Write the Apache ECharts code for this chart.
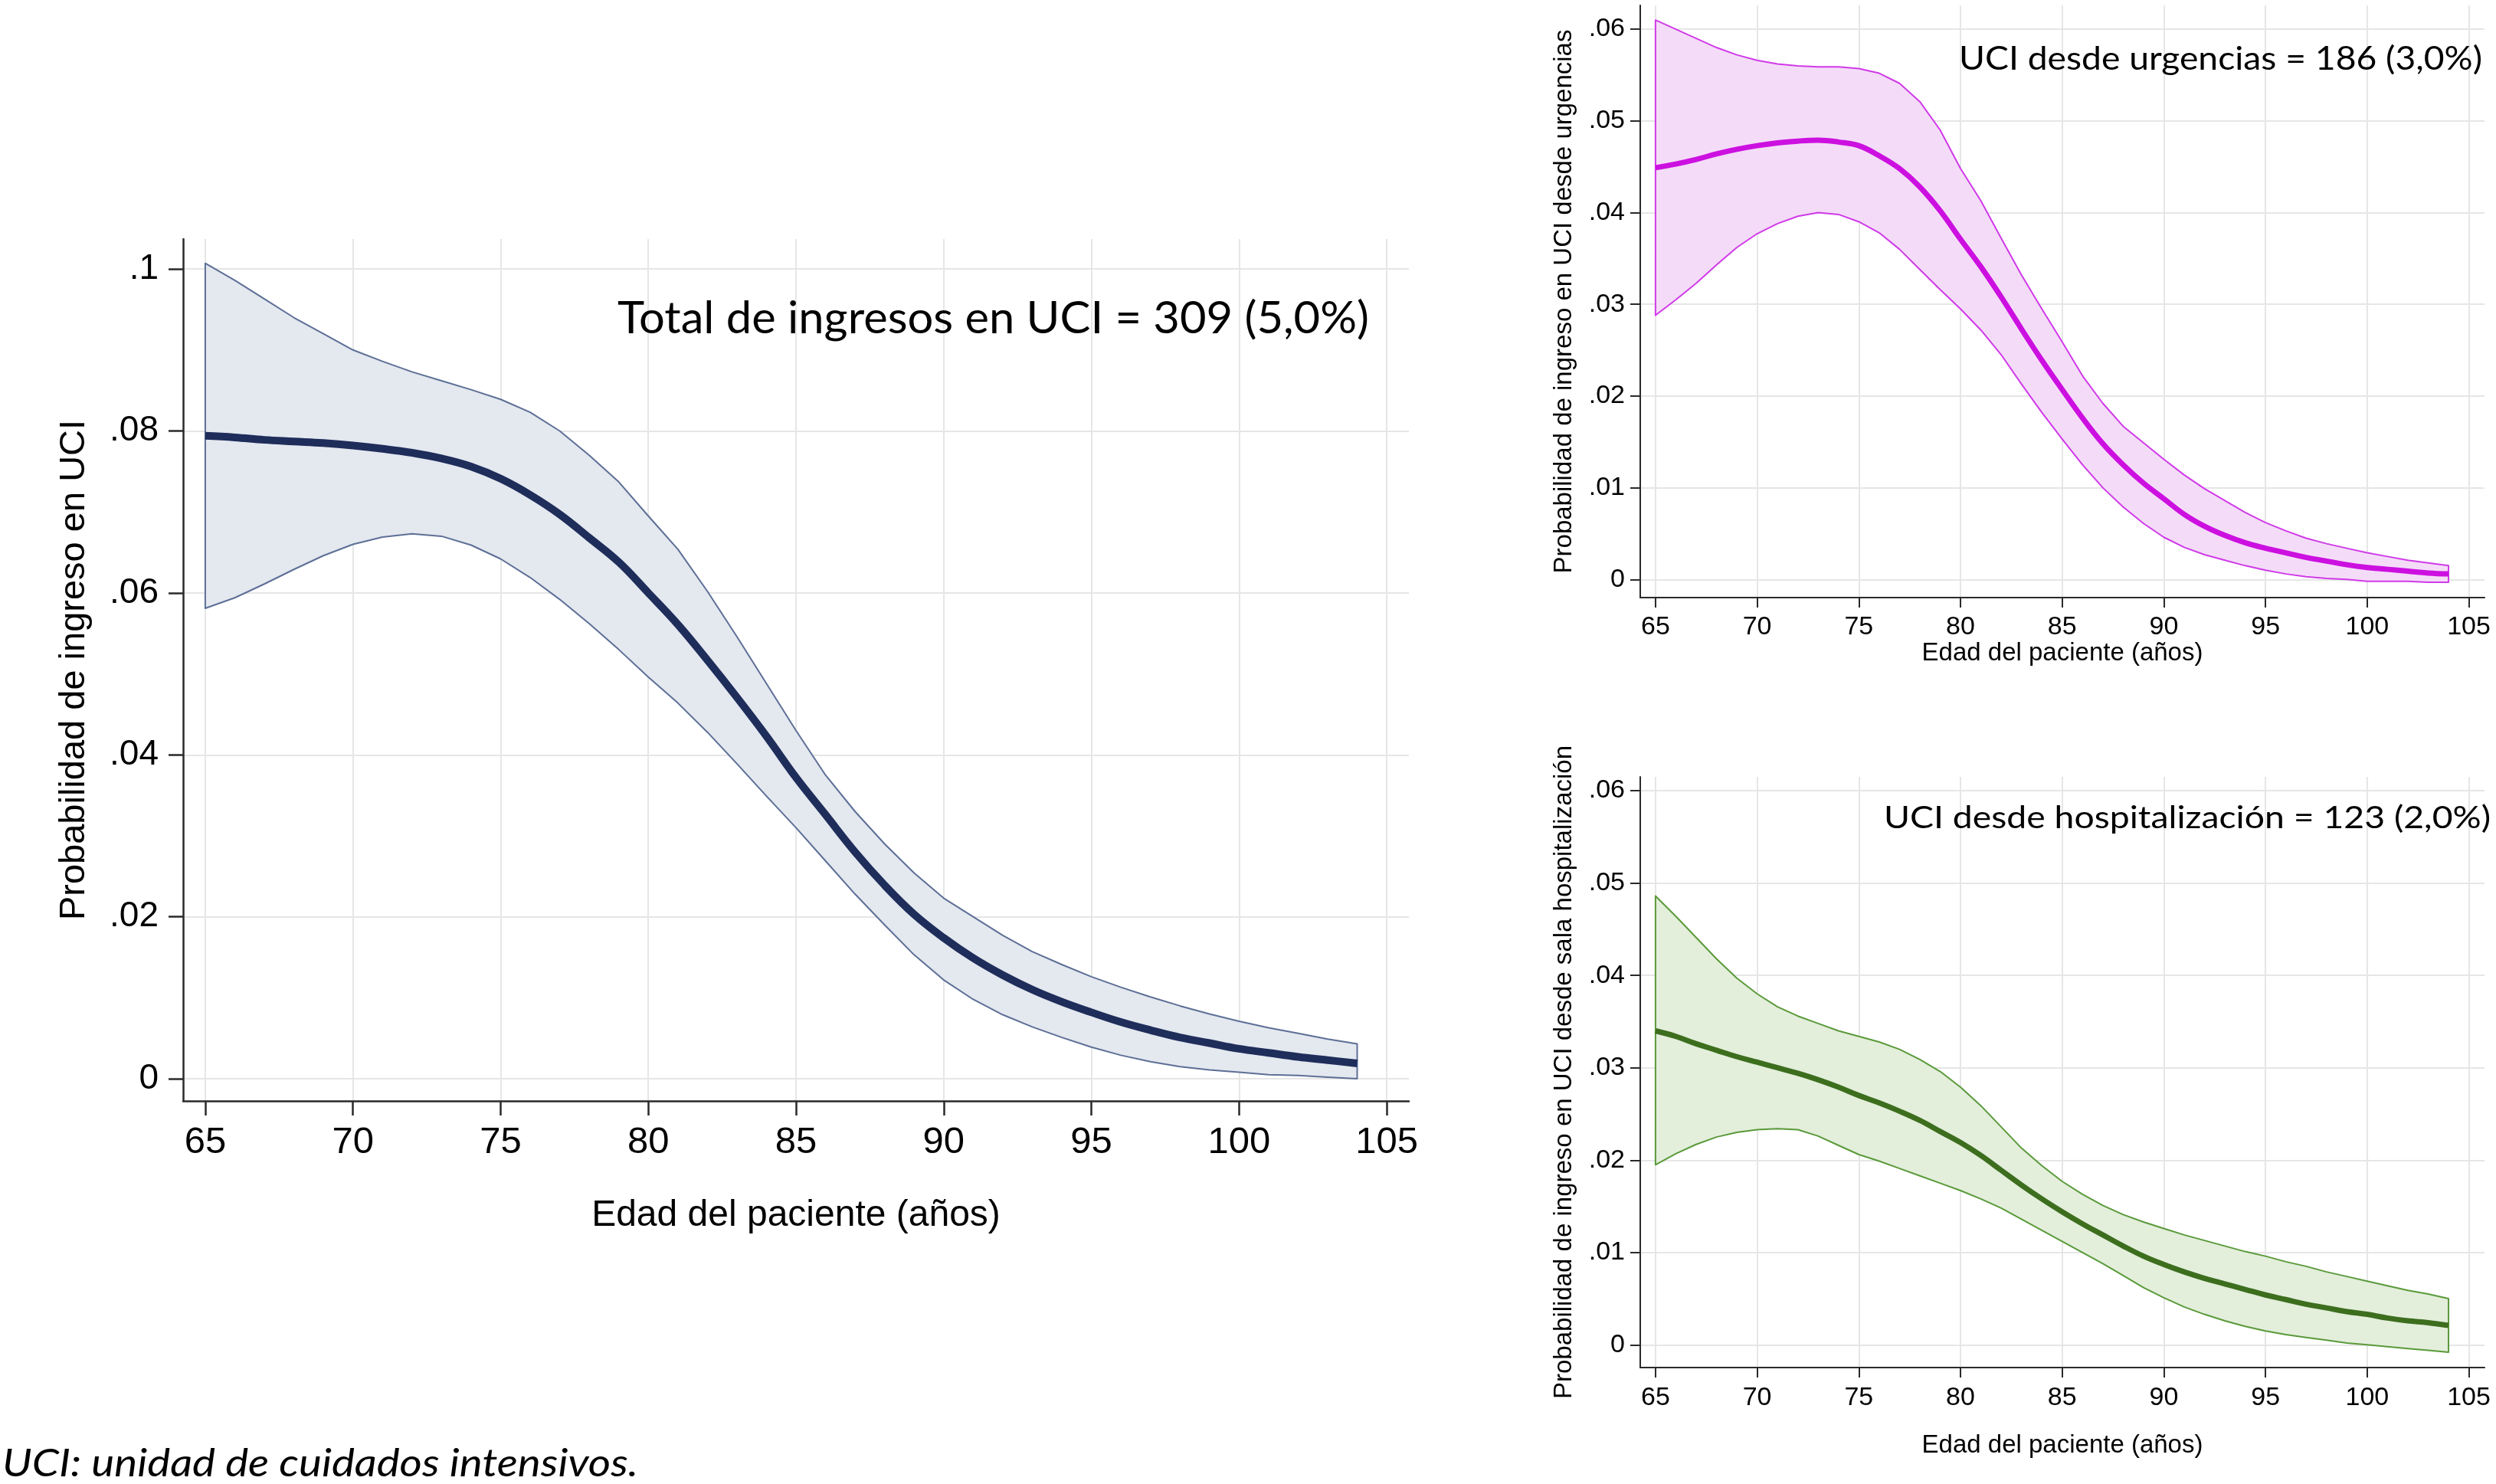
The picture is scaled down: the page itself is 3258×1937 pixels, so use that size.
<!DOCTYPE html>
<html>
<head>
<meta charset="utf-8">
<script src="https://cdn.jsdelivr.net/npm/echarts@6/dist/echarts.min.js"></script>
<style>
html,body{margin:0;padding:0;background:#ffffff;}
#c{width:3258px;height:1937px;}
</style>
</head>
<body>
<div id="c"></div>
<script>
// ---------------- DATA ----------------
const ages = [65,66,67,68,69,70,71,72,73,74,75,76,77,78,79,80,81,82,83,84,85,86,87,88,89,90,91,92,93,94,95,96,97,98,99,100,101,102,103,104];

// Total de ingresos en UCI
const totalMid = [.0794,.0792,.0789,.0787,.0785,.0782,.0778,.0773,.0766,.0756,.0741,.0721,.0697,.0668,.0638,.0600,.0561,.0517,.0471,.0423,.0372,.0326,.0280,.0239,.0203,.0174,.0149,.0128,.0110,.0095,.0082,.0070,.0060,.0051,.0044,.0037,.0032,.0027,.0023,.0019];
const totalUp  = [.1007,.0986,.0963,.0940,.0920,.0900,.0886,.0873,.0862,.0851,.0839,.0823,.0800,.0770,.0737,.0695,.0654,.0602,.0546,.0488,.0430,.0375,.0330,.0290,.0254,.0223,.0200,.0177,.0157,.0141,.0126,.0113,.0101,.0090,.0080,.0071,.0063,.0056,.0049,.0043];
const totalLow = [.0581,.0594,.0611,.0629,.0646,.0660,.0669,.0673,.0670,.0659,.0642,.0619,.0592,.0562,.0530,.0496,.0464,.0428,.0389,.0349,.0310,.0269,.0228,.0190,.0153,.0122,.0098,.0079,.0064,.0051,.0039,.0029,.0021,.0015,.0011,.0008,.0005,.0004,.0002,.0000];

// UCI desde urgencias
const urgMid = [.0449,.0453,.0458,.0464,.0469,.0473,.0476,.0478,.0479,.0477,.0473,.0462,.0448,.0428,.0402,.0371,.0341,.0308,.0273,.0239,.0207,.0176,.0148,.0125,.0105,.0088,.0071,.0058,.0048,.0040,.0034,.0029,.0024,.0020,.0016,.0013,.0011,.0009,.0007,.0006];
const urgUp  = [.0610,.0600,.0590,.0580,.0572,.0566,.0562,.0560,.0559,.0559,.0557,.0552,.0541,.0521,.0490,.0448,.0413,.0372,.0332,.0295,.0259,.0222,.0192,.0167,.0149,.0131,.0114,.0099,.0086,.0073,.0062,.0053,.0045,.0039,.0034,.0029,.0025,.0021,.0018,.0015];
const urgLow = [.0288,.0305,.0323,.0343,.0362,.0377,.0388,.0396,.0400,.0398,.0390,.0378,.0360,.0338,.0316,.0295,.0272,.0245,.0213,.0182,.0153,.0125,.0100,.0079,.0061,.0046,.0035,.0027,.0021,.0015,.0010,.0006,.0003,.0001,.0000,-.0002,-.0002,-.0002,-.0003,-.0003];

// UCI desde hospitalización
const hospMid = [.0340,.0334,.0326,.0319,.0312,.0306,.0300,.0294,.0287,.0279,.0270,.0262,.0253,.0243,.0231,.0219,.0205,.0189,.0173,.0158,.0144,.0131,.0119,.0107,.0096,.0087,.0079,.0072,.0066,.0060,.0054,.0049,.0044,.0040,.0036,.0033,.0029,.0026,.0024,.0021];
const hospUp  = [.0486,.0464,.0441,.0418,.0397,.0380,.0366,.0356,.0348,.0340,.0334,.0328,.0320,.0309,.0296,.0279,.0259,.0236,.0213,.0194,.0177,.0163,.0151,.0141,.0133,.0126,.0119,.0113,.0107,.0101,.0096,.0090,.0085,.0079,.0074,.0069,.0064,.0059,.0055,.0050];
const hospLow = [.0195,.0207,.0217,.0225,.0230,.0233,.0234,.0233,.0226,.0216,.0206,.0199,.0191,.0183,.0175,.0167,.0158,.0148,.0136,.0124,.0112,.0100,.0088,.0075,.0062,.0051,.0041,.0033,.0026,.0020,.0015,.0011,.0008,.0005,.0002,.0000,-.0002,-.0004,-.0006,-.0008];

// Tick values
const xTicks = [65,70,75,80,85,90,95,100,105];
const yTicksMain = [0,.02,.04,.06,.08,.1];
const yTicksSub = [0,.01,.02,.03,.04,.05,.06];

// Texts
const xTitle = 'Edad del paciente (años)';
const yTitleMain = 'Probabilidad de ingreso en UCI';
const yTitleUrg = 'Probabilidad de ingreso en UCI desde urgencias';
const yTitleHosp = 'Probabilidad de ingreso en UCI desde sala hospitalización';
const noteMain = 'Total de ingresos en UCI = 309 (5,0%)';
const noteUrg = 'UCI desde urgencias = 186 (3,0%)';
const noteHosp = 'UCI desde hospitalización = 123 (2,0%)';
const caption = 'UCI: unidad de cuidados intensivos.';

// ---------------- CHART ----------------
const F = '"Liberation Sans", Arial, sans-serif';
const ANN = 'Lato, "Open Sans", sans-serif';
const chart = echarts.init(document.getElementById('c'), null, {renderer:'canvas'});

function yFmt(v){
  if (Math.abs(v) < 1e-9) return '0';
  return String(parseFloat(v.toFixed(3))).replace(/^0\./,'.');
}

function xAxisDef(gi, min, max, fs, margin, nameGap, tickLen, lw, nfs){
  return {
    type:'value', gridIndex:gi, min:min, max:max,
    name:xTitle, nameLocation:'middle', nameGap:nameGap,
    nameTextStyle:{fontSize:nfs, fontFamily:F, color:'#000'},
    axisLine:{show:true, onZero:false, lineStyle:{color:'#2a2a2a', width:lw}},
    axisTick:{show:true, customValues:xTicks, length:tickLen, lineStyle:{color:'#2a2a2a', width:lw}},
    axisLabel:{show:true, customValues:xTicks, fontSize:fs, fontFamily:F, color:'#000', margin:margin,
               formatter:function(v){return String(v);}},
    splitLine:{show:true, lineStyle:{color:'#e6e6e6', width:2}}
  };
}
function yAxisDef(gi, min, max, ticks, name, fs, margin, nameGap, tickLen, lw, nfs){
  return {
    type:'value', gridIndex:gi, min:min, max:max,
    name:name, nameLocation:'middle', nameGap:nameGap,
    nameTextStyle:{fontSize:nfs, fontFamily:F, color:'#000'},
    axisLine:{show:true, onZero:false, lineStyle:{color:'#2a2a2a', width:lw}},
    axisTick:{show:true, customValues:ticks, length:tickLen, lineStyle:{color:'#2a2a2a', width:lw}},
    axisLabel:{show:true, customValues:ticks, fontSize:fs, fontFamily:F, color:'#000', margin:margin, formatter:yFmt},
    splitLine:{show:true, lineStyle:{color:'#e6e6e6', width:2}}
  };
}
function band(gi, up, low, fill, stroke, lw){
  return {
    type:'custom', xAxisIndex:gi, yAxisIndex:gi, z:2, silent:true, clip:false,
    data: ages.map(function(a,i){return [a, low[i], up[i]];}),
    encode:{x:0, y:[1,2]},
    renderItem:function(params, api){
      if (params.dataIndex !== 0) return null;
      const pts = [];
      for (let i=0;i<ages.length;i++) pts.push(api.coord([ages[i], up[i]]));
      for (let i=ages.length-1;i>=0;i--) pts.push(api.coord([ages[i], low[i]]));
      return {type:'polygon', shape:{points:pts}, style:{fill:fill, stroke:stroke, lineWidth:lw, lineJoin:'round'}};
    }
  };
}
function mid(gi, vals, color, w){
  return {
    type:'line', xAxisIndex:gi, yAxisIndex:gi, z:3, silent:true,
    data: ages.map(function(a,i){return [a, vals[i]];}),
    symbol:'none', smooth:0.4,
    lineStyle:{color:color, width:w, join:'round'}
  };
}

// measure text to compress annotations horizontally like the Calibri original
const mc = document.createElement('canvas').getContext('2d');
function sx(text, font, target){
  mc.font = font;
  const w = mc.measureText(text).width;
  return w > 0 ? target / w : 1;
}
function ann(text, x, y, size, align, targetW, italic){
  const fontStr = (italic ? 'italic ' : '') + size + 'px Lato';
  return {
    type:'text', x:x, y:y, z:10, silent:true,
    scaleX: sx(text, fontStr, targetW), scaleY:1,
    style:{text:text, fontFamily:ANN, fontSize:size, fontStyle: italic ? 'italic' : 'normal',
           fill:'#000', align:align, verticalAlign:'middle'}
  };
}

const option = {
  animation:false,
  backgroundColor:'#ffffff',
  grid:[
    {left:239, top:312, width:1600, height:1125, containLabel:false, outerBoundsMode:'none'},
    {left:2141, top:7, width:1102, height:773, containLabel:false, outerBoundsMode:'none'},
    {left:2141, top:1014, width:1102, height:771, containLabel:false, outerBoundsMode:'none'}
  ],
  xAxis:[
    xAxisDef(0, 64.25, 105.75, 49, 30, 126, 19, 2.5, 48),
    xAxisDef(1, 64.25, 105.77, 34, 22, 52, 13, 2, 33),
    xAxisDef(2, 64.25, 105.77, 34, 23, 85, 13, 2, 33)
  ],
  yAxis:[
    yAxisDef(0, -0.00274, 0.1037, yTicksMain, yTitleMain, 46, 32, 118, 19, 2.5, 47),
    yAxisDef(1, -0.00198, 0.0626, yTicksSub, yTitleUrg, 34, 20, 83, 13, 2, 33),
    yAxisDef(2, -0.00246, 0.0615, yTicksSub, yTitleHosp, 34, 20, 83, 13, 2, 33)
  ],
  series:[
    band(0, totalUp, totalLow, '#e4e8ef', '#5d6f96', 2),
    mid(0, totalMid, '#1e2d5a', 10),
    band(1, urgUp, urgLow, '#f4dcf8', '#d03ae8', 2),
    mid(1, urgMid, '#cc10e0', 7),
    band(2, hospUp, hospLow, '#e3eedb', '#5a9a3a', 2),
    mid(2, hospMid, '#3c6e1e', 7)
  ],
  graphic:[
    ann(noteMain, 806, 416, 59, 'left', 981, false),
    ann(noteUrg, 3240, 77, 43, 'right', 683, false),
    ann(noteHosp, 3251, 1068, 41, 'right', 792, false),
    ann(caption, 3, 1911, 50, 'left', 830, true)
  ]
};
chart.setOption(option);
</script>
</body>
</html>
